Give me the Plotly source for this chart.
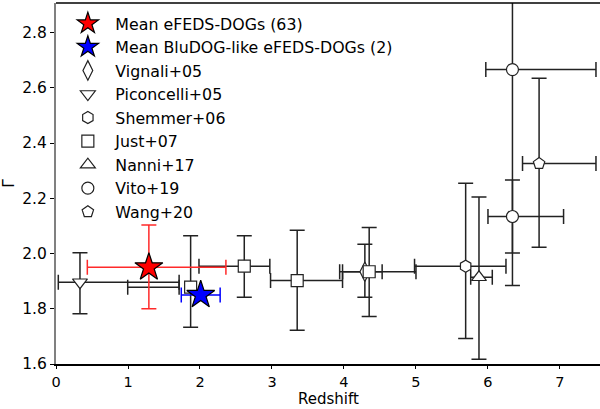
import plotly.graph_objects as go

# ---------------- data ----------------
# each series: x, y, x_lo, x_hi, y_lo, y_hi
red_x = [1.29]; red_y = [1.95]
red_xlo = [0.435]; red_xhi = [2.36]; red_ylo = [1.80]; red_yhi = [2.103]

blue_x = [2.01]; blue_y = [1.85]
blue_xlo = [1.74]; blue_xhi = [2.28]; blue_ylo = [1.85]; blue_yhi = [1.85]

vig_x = [4.29]; vig_y = [1.934]
vig_xlo = [3.94]; vig_xhi = [4.53]; vig_ylo = [1.842]; vig_yhi = [2.034]

pic_x = [0.333]; pic_y = [1.896]
pic_xlo = [0.032]; pic_xhi = [1.71]; pic_ylo = [1.782]; pic_yhi = [2.003]

she_x = [5.69]; she_y = [1.954]
she_xlo = [4.98]; she_xhi = [6.25]; she_ylo = [1.692]; she_yhi = [2.254]

just_x = [1.87, 2.615, 3.35, 4.35]; just_y = [1.878, 1.954, 1.902, 1.934]
just_xlo = [0.996, 1.986, 2.98, 3.98]; just_xhi = [1.71, 2.97, 3.98, 5.0]
just_ylo = [1.733, 1.842, 1.722, 1.772]; just_yhi = [2.064, 2.064, 2.084, 2.094]

nan_x = [5.875]; nan_y = [1.914]
nan_xlo = [5.76]; nan_xhi = [6.06]; nan_ylo = [1.617]; nan_yhi = [2.205]

vito_x = [6.34, 6.34]; vito_y = [2.134, 2.666]
vito_xlo = [6.00, 5.97]; vito_xhi = [7.05, 7.50]
vito_ylo = [2.002, 1.884]; vito_yhi = [2.266, 3.45]

wang_x = [6.71]; wang_y = [2.326]
wang_xlo = [6.48]; wang_xhi = [7.50]; wang_ylo = [2.023]; wang_yhi = [2.635]

x_ticks = [0, 1, 2, 3, 4, 5, 6, 7]
y_ticks = [1.6, 1.8, 2.0, 2.2, 2.4, 2.6, 2.8]
x_title = "Redshift"
y_title = "Γ"

FONT = "DejaVu Sans"
FS = 15.5
TFS = 14.5
XFS = 15
LFS = 15.8

series = [
    ("Mean eFEDS-DOGs (63)", red_x, red_y, red_xlo, red_xhi, red_ylo, red_yhi,
     "star", 21, "red", "#ff2a2a", "#000000"),
    ("Mean BluDOG-like eFEDS-DOGs (2)", blue_x, blue_y, blue_xlo, blue_xhi, blue_ylo, blue_yhi,
     "star", 21, "blue", "blue", "#000000"),
    ("Vignali+05", vig_x, vig_y, vig_xlo, vig_xhi, vig_ylo, vig_yhi,
     "diamond-tall", 14, "white", "#222222", "#222222"),
    ("Piconcelli+05", pic_x, pic_y, pic_xlo, pic_xhi, pic_ylo, pic_yhi,
     "triangle-down", 13, "white", "#222222", "#222222"),
    ("Shemmer+06", she_x, she_y, she_xlo, she_xhi, she_ylo, she_yhi,
     "hexagon", 12, "white", "#222222", "#222222"),
    ("Just+07", just_x, just_y, just_xlo, just_xhi, just_ylo, just_yhi,
     "square", 12, "white", "#222222", "#222222"),
    ("Nanni+17", nan_x, nan_y, nan_xlo, nan_xhi, nan_ylo, nan_yhi,
     "triangle-up", 13, "white", "#222222", "#222222"),
    ("Vito+19", vito_x, vito_y, vito_xlo, vito_xhi, vito_ylo, vito_yhi,
     "circle", 12, "white", "#222222", "#222222"),
    ("Wang+20", wang_x, wang_y, wang_xlo, wang_xhi, wang_ylo, wang_yhi,
     "pentagon", 12, "white", "#222222", "#222222"),
]

fig = go.Figure()

# error bars first (drawn via library error bars around bin centres)
for name, xs, ys, xlo, xhi, ylo, yhi, sym, size, fill, ecol, mline in reversed(series):
    hx = [(a + b) / 2 for a, b in zip(xlo, xhi)]
    hw = [(b - a) / 2 for a, b in zip(xlo, xhi)]
    vy = [(a + b) / 2 for a, b in zip(ylo, yhi)]
    vw = [(b - a) / 2 for a, b in zip(ylo, yhi)]
    fig.add_trace(go.Scatter(
        x=hx, y=ys, mode="markers", showlegend=False, hoverinfo="skip",
        marker=dict(size=1, opacity=0),
        error_x=dict(type="data", array=hw, symmetric=True, color=ecol,
                     thickness=1.5, width=7.5)))
    fig.add_trace(go.Scatter(
        x=xs, y=vy, mode="markers", showlegend=False, hoverinfo="skip",
        marker=dict(size=1, opacity=0),
        error_y=dict(type="data", array=vw, symmetric=True, color=ecol,
                     thickness=1.5, width=7.5)))

# markers (legend order as reference, stars drawn on top)
traces = []
for i, (name, xs, ys, xlo, xhi, ylo, yhi, sym, size, fill, ecol, mline) in enumerate(series):
    traces.append(go.Scatter(
        x=xs, y=ys, mode="markers", name=name, legendrank=i + 1,
        marker=dict(symbol=sym, size=size, color=fill,
                    line=dict(color=mline, width=1.2))))
for t in traces[2:] + traces[:2]:
    fig.add_trace(t)

fig.update_layout(
    width=600, height=409,
    margin=dict(l=56, r=0, t=3, b=45),
    paper_bgcolor="white", plot_bgcolor="white",
    font=dict(family=FONT, size=FS, color="black"),
    showlegend=True,
    legend=dict(x=0.008, y=0.99, xanchor="left", yanchor="top",
                bgcolor="rgba(255,255,255,0)", borderwidth=0,
                font=dict(family=FONT, size=LFS), itemsizing="trace",
                itemwidth=45, tracegroupgap=0),
    xaxis=dict(range=[0, 7.556], tickvals=x_ticks, ticktext=[str(v) for v in x_ticks],
               showgrid=False, zeroline=False, showline=True, linecolor="black",
               linewidth=1.5, ticks="outside", ticklen=3.5, tickwidth=1.2,
               tickcolor="black", tickfont=dict(family=FONT, size=TFS)),
    yaxis=dict(range=[1.6, 2.907], tickvals=y_ticks, ticktext=["%.1f" % v for v in y_ticks],
               showgrid=False, zeroline=False, showline=True, linecolor="#808080",
               linewidth=2, ticks="outside", ticklen=4, tickwidth=1.2,
               tickcolor="black", tickfont=dict(family=FONT, size=FS),
               title=dict(text=y_title, font=dict(family=FONT, size=FS), standoff=10)),
    shapes=[dict(type="line", xref="paper", yref="paper", x0=0, x1=1, y0=1, y1=1,
                 line=dict(color="black", width=1.5))],
    annotations=[dict(text=x_title, xref="paper", yref="paper", x=0.5, y=0,
                      xanchor="center", yanchor="bottom", yshift=-44.5, borderpad=0,
                      showarrow=False,
                      font=dict(family=FONT, size=XFS, color="black"))],
)

fig.write_html("out.html")
